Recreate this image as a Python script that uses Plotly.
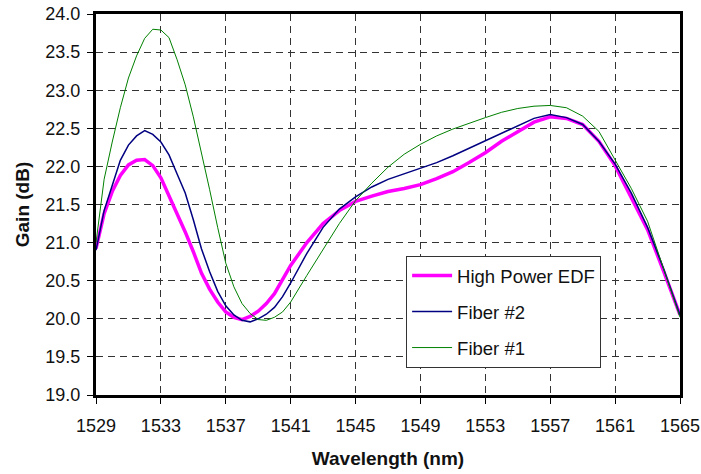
import plotly.graph_objects as go

wavelength = [1529, 1529.5, 1530, 1530.5, 1531, 1531.5, 1532, 1532.5, 1533, 1533.5,
              1534, 1534.5, 1535, 1535.5, 1536, 1536.5, 1537, 1537.5, 1538, 1538.5,
              1539, 1539.5, 1540, 1540.5, 1541, 1542, 1543, 1544, 1545, 1546,
              1547, 1548, 1549, 1550, 1551, 1552, 1553, 1554, 1555, 1556,
              1557, 1558, 1559, 1560, 1561, 1562, 1563, 1564, 1565]

high_power_edf = [20.92, 21.38, 21.67, 21.88, 22.02, 22.08, 22.09, 22.01, 21.85, 21.62,
                  21.38, 21.14, 20.88, 20.60, 20.39, 20.22, 20.09, 20.02, 19.99, 20.03,
                  20.10, 20.20, 20.33, 20.52, 20.70, 21.00, 21.25, 21.42, 21.54, 21.61,
                  21.67, 21.71, 21.76, 21.84, 21.93, 22.05, 22.18, 22.33, 22.46, 22.58,
                  22.65, 22.63, 22.55, 22.33, 22.01, 21.60, 21.17, 20.62, 20.05]

fiber2 = [20.90, 21.42, 21.75, 22.08, 22.28, 22.40, 22.47, 22.42, 22.32, 22.15,
          21.90, 21.65, 21.30, 20.92, 20.62, 20.36, 20.17, 20.05, 19.98, 19.96,
          20.00, 20.06, 20.15, 20.29, 20.47, 20.86, 21.20, 21.44, 21.60, 21.73,
          21.83, 21.90, 21.97, 22.05, 22.14, 22.24, 22.34, 22.44, 22.54, 22.63,
          22.68, 22.64, 22.55, 22.33, 22.03, 21.65, 21.20, 20.65, 20.05]

fiber1 = [21.00, 21.83, 22.32, 22.77, 23.16, 23.45, 23.68, 23.80, 23.79, 23.69,
          23.40, 23.07, 22.65, 22.19, 21.70, 21.20, 20.73, 20.42, 20.20, 20.07,
          19.99, 19.98, 20.02, 20.09, 20.22, 20.57, 20.91, 21.25, 21.55, 21.78,
          21.99, 22.16, 22.29, 22.40, 22.49, 22.57, 22.64, 22.71, 22.76, 22.79,
          22.80, 22.77, 22.66, 22.46, 22.09, 21.71, 21.28, 20.66, 20.02]

series_names = ["High Power EDF", "Fiber #2", "Fiber #1"]

FONT = "Liberation Sans, Arial, sans-serif"

fig = go.Figure()
fig.add_trace(go.Scatter(x=wavelength, y=high_power_edf, mode="lines", name=series_names[0],
                         line=dict(color="#FF00FF", width=3.5), legendgroup="a"))
fig.add_trace(go.Scatter(x=wavelength, y=fiber2, mode="lines", name=series_names[1],
                         line=dict(color="#000080", width=1.5), legendgroup="b"))
fig.add_trace(go.Scatter(x=wavelength, y=fiber1, mode="lines", name=series_names[2],
                         line=dict(color="#008000", width=1), legendgroup="c"))

fig.update_layout(
    width=701, height=474,
    margin=dict(l=96, r=21, t=14, b=79, autoexpand=False),
    paper_bgcolor="white", plot_bgcolor="white",
    font=dict(family=FONT, size=18, color="#111"),
    legend=dict(x=0.531, y=0.365, xanchor="left", yanchor="top",
                bgcolor="white", bordercolor="#333", borderwidth=1,
                font=dict(size=18.5, color="#111"), tracegroupgap=9,
                itemwidth=40),
    showlegend=True,
)

fig.update_xaxes(
    range=[1529, 1565], tick0=1529, dtick=4, automargin=False,
    showline=True, linecolor="black", linewidth=3, mirror=True,
    ticks="outside", ticklen=6, tickwidth=1, tickcolor="black",
    ticklabelstandoff=6,
    showgrid=True, gridcolor="#333", gridwidth=1, griddash="7px,5px",
    zeroline=False,
    title=dict(text="<b>Wavelength (nm)</b>", font=dict(size=19, color="#111"), standoff=18),
)
fig.update_yaxes(
    range=[19, 24], tick0=19, dtick=0.5, tickformat=".1f", automargin=False,
    showline=True, linecolor="black", linewidth=3, mirror=True,
    ticks="outside", ticklen=6, tickwidth=1, tickcolor="black",
    ticklabelstandoff=3,
    showgrid=True, gridcolor="#333", gridwidth=1, griddash="7px,5px",
    zeroline=False,
    title=dict(text="<b>Gain (dB)</b>", font=dict(size=19, color="#111"), standoff=11),
)

fig.write_html("out.html")
